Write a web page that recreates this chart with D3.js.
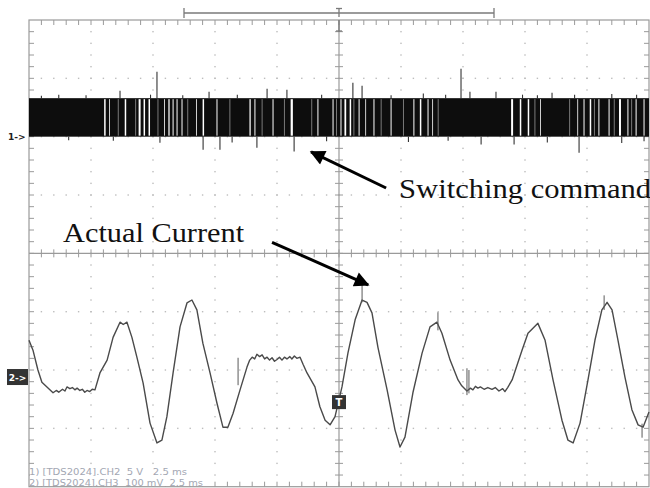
<!DOCTYPE html>
<html><head><meta charset="utf-8">
<script src="https://cdn.jsdelivr.net/npm/d3@7"></script>
<style>html,body{margin:0;padding:0;background:#fff;} svg{display:block;}</style>
</head><body>
<svg id="scope" width="650" height="488"></svg>
<script>
// ---- acquisition settings ----
const msPerDiv = 2.5;
const ch1VoltsPerDiv = 5;
const ch2MvPerDiv = 100;
const ch1OffsetDiv = 2.0;     // ground position of CH1 in divisions above centre
const ch2OffsetDiv = -2.12;   // ground position of CH2
const triggerLevelMv = -43;

// ---- channel 1: PWM switching command (V) ----
const ch1High = 3.3;
const ch1Gaps = [[3.03,3.09],[3.23,3.26],[3.86,3.92],[4.42,4.50],[4.62,4.68],[4.82,4.88],
  [5.45,5.48],[5.62,5.67],[5.79,5.83],[5.95,5.99],[6.15,6.19],[6.74,6.77],[7.00,7.06],
  [7.56,7.60],[8.89,8.94],[9.09,9.13],[9.82,9.86],[10.55,10.64],[11.63,11.67],[12.24,12.28],
  [12.56,12.60],[12.72,12.79],[12.93,12.99],[13.29,13.33],[13.56,13.59],[13.89,13.93],
  [14.58,14.62],[15.50,15.54],[15.76,15.82],[16.07,16.11],[16.26,16.29],[19.44,19.52],
  [19.79,19.85],[20.11,20.17],[20.61,20.64],[22.11,22.14],[22.36,22.40],[22.61,22.67],
  [22.96,23.00],[23.37,23.41],[23.79,23.87],[24.13,24.17],[24.46,24.50],[24.78,24.82]];
const ch1Gray = [3.6,4.3,5.2,6.4,8.1,9.4,10.3,11.4,12.4,13.1,14.2,15.1,16.5,20.4,21.8,22.8,
  23.6,24.3];
const ch1SpikesUp = [[5.16,5.56],[17.42,5.82],[13.06,4.62],[13.43,4.37],[9.60,4.11],[10.40,4.02],
  [3.67,3.94],[7.26,3.85],[17.78,3.85],[18.83,3.85],[21.09,3.77],[1.2,3.6],[2.3,3.55],
  [8.4,3.6],[11.8,3.6],[15.9,3.7],[19.9,3.6],[23.5,3.65],[0.5,3.5],[4.9,3.6],[6.2,3.55],
  [14.6,3.55],[16.8,3.6],[20.5,3.55],[22.0,3.6],[24.5,3.6]];
const ch1SpikesDown = [[7.02,-1.11],[7.70,-1.11],[9.19,-0.94],[10.69,-1.28],[18.23,-0.68],
  [19.56,-0.68],[22.18,-1.37],[5.28,-0.51],[8.19,-0.5],[15.3,-0.45],[20.9,-0.5],[23.9,-0.55],
  [1.6,-0.3],[3.4,-0.35],[12.0,-0.4],[16.9,-0.35],[24.8,-0.4]];

// ---- channel 2: measured current (mV) ----
const ch2Time = [0,0.16,0.36,0.52,0.97,1.1,1.2,1.35,1.45,1.53,1.65,1.75,1.85,1.94,2.05,2.15,
  2.25,2.34,2.45,2.55,2.66,2.86,3.15,3.39,3.67,3.8,3.95,4.15,4.35,4.6,4.88,5.16,5.36,5.56,
  5.81,6.09,6.37,6.57,6.77,7.01,7.3,7.58,7.82,8.02,8.23,8.51,8.79,8.9,9.0,9.1,9.19,9.3,9.4,
  9.5,9.6,9.7,9.8,9.9,10.0,10.1,10.2,10.3,10.4,10.52,10.6,10.7,10.8,10.93,11.05,11.21,11.53,
  11.73,11.94,12.14,12.34,12.62,12.86,13.15,13.43,13.63,13.83,14.07,14.44,14.76,14.96,15.16,
  15.48,15.85,16.17,16.45,16.65,16.98,17.3,17.45,17.66,17.8,17.9,18.0,18.1,18.2,18.35,18.5,
  18.67,18.8,18.95,19.1,19.19,19.3,19.48,19.88,20.12,20.52,20.81,21.13,21.49,21.73,21.94,
  22.22,22.54,22.82,23.1,23.31,23.51,23.75,24.03,24.31,24.56,24.76,25.0];
const ch2Value = [63,46,12,-9,-27,-23,-26,-21,-24,-17,-20,-18,-22,-19,-23,-21,
  -26,-23,-25,-21,-22,7,29,68,94,90,94,68,34,-10,-79,-113,-108,-68,
  7,86,127,132,115,58,7,-45,-86,-86,-62,-22,17,29,34,31,39,35,38,
  31,34,29,33,27,30,34,29,34,31,35,31,36,32,34,22,7,-17,
  -51,-74,-82,-68,-17,41,98,132,128,110,51,-22,-91,-120,-103,
  -27,41,86,94,75,29,-5,-15,-24,-19,-22,-16,-19,-17,-21,-18,
  -21,-18,-24,-20,-25,-18,-5,46,75,92,63,-5,-74,-108,-113,
  -79,-5,63,115,128,115,63,0,-56,-82,-86,-60];
const ch2Spikes = [[8.43,33,-14],[17.66,15,-31],[17.74,12,-28],[13.43,161,128],
  [16.49,111,80],[23.19,140,115],[24.72,-80,-104]];

// ---- text ----
const readout = ["1) [TDS2024].CH2  5 V   2.5 ms", "2) [TDS2024].CH3  100 mV  2.5 ms"];
const readoutWidth = [158, 174];
const notes = [
  {text: "Switching command", xDiv: 5.97, yDiv: 0.95, width: 252},
  {text: "Actual Current", xDiv: 0.55, yDiv: 0.19, width: 181}
];
const arrows = [
  {from: [5.76, 1.12], to: [4.55, 1.74]},
  {from: [3.92, 0.19], to: [5.47, -0.54]}
];

// ---- scales ----
const L = 29, R = 649, T = 20, B = 486.7;
const xDiv = d3.scaleLinear().domain([0, 10]).range([L, R]);
const yDiv = d3.scaleLinear().domain([-4, 4]).range([B, T]);
const x = d3.scaleLinear().domain([0, 10 * msPerDiv]).range([L, R]);
const y1 = d3.scaleLinear()
  .domain([(-4 - ch1OffsetDiv) * ch1VoltsPerDiv, (4 - ch1OffsetDiv) * ch1VoltsPerDiv]).range([B, T]);
const y2 = d3.scaleLinear()
  .domain([(-4 - ch2OffsetDiv) * ch2MvPerDiv, (4 - ch2OffsetDiv) * ch2MvPerDiv]).range([B, T]);

const svg = d3.select("#scope");
const gridColor = "#9a9a9a";

// ---- graticule ----
const grid = svg.append("g");
const minorX = d3.range(0, 10.001, 0.2);
const minorY = d3.range(-4, 4.001, 0.2);
// dotted division lines
[1,2,3,4,6,7,8,9].forEach(d => {
  minorY.slice(1, -1).forEach(v => grid.append("rect")
    .attr("x", xDiv(d) - 0.7).attr("y", yDiv(v) - 0.7).attr("width", 1.4).attr("height", 1.4)
    .attr("fill", "#bdbdbd"));
});
[-3,-2,-1,1,2,3].forEach(d => {
  minorX.slice(1, -1).forEach(v => grid.append("rect")
    .attr("x", xDiv(v) - 0.7).attr("y", yDiv(d) - 0.7).attr("width", 1.4).attr("height", 1.4)
    .attr("fill", "#bdbdbd"));
});
// frame
grid.append("rect").attr("x", L).attr("y", T).attr("width", R - L).attr("height", B - T)
  .attr("fill", "none").attr("stroke", gridColor).attr("stroke-width", 1.2);
// centre axes
grid.append("line").attr("x1", L).attr("x2", R).attr("y1", yDiv(0)).attr("y2", yDiv(0))
  .attr("stroke", gridColor).attr("stroke-width", 1.2);
grid.append("line").attr("x1", xDiv(5)).attr("x2", xDiv(5)).attr("y1", T).attr("y2", B)
  .attr("stroke", gridColor).attr("stroke-width", 1.2);
// ticks on frame and centre axes
minorX.slice(1, -1).forEach(v => {
  const px = xDiv(v);
  grid.append("line").attr("x1", px).attr("x2", px).attr("y1", T).attr("y2", T + 5)
    .attr("stroke", gridColor);
  grid.append("line").attr("x1", px).attr("x2", px).attr("y1", B - 5).attr("y2", B)
    .attr("stroke", gridColor);
  grid.append("line").attr("x1", px).attr("x2", px).attr("y1", yDiv(0) - 4).attr("y2", yDiv(0) + 4)
    .attr("stroke", gridColor);
});
minorY.slice(1, -1).forEach(v => {
  const py = yDiv(v);
  grid.append("line").attr("x1", L).attr("x2", L + 5).attr("y1", py).attr("y2", py)
    .attr("stroke", gridColor);
  grid.append("line").attr("x1", R - 5).attr("x2", R).attr("y1", py).attr("y2", py)
    .attr("stroke", gridColor);
  grid.append("line").attr("x1", xDiv(5) - 4).attr("x2", xDiv(5) + 4).attr("y1", py).attr("y2", py)
    .attr("stroke", gridColor);
});

// ---- horizontal position bracket and trigger position marker ----
const brk = svg.append("g").attr("stroke", "#7a7a7a").attr("stroke-width", 1.3);
brk.append("line").attr("x1", x(6.25)).attr("x2", x(18.75)).attr("y1", 13).attr("y2", 13);
[6.25, 18.75].forEach(t => brk.append("line").attr("x1", x(t)).attr("x2", x(t))
  .attr("y1", 8).attr("y2", 18));
brk.append("line").attr("x1", x(12.5)).attr("x2", x(12.5)).attr("y1", 8).attr("y2", 17);
brk.append("line").attr("x1", x(12.5) - 3).attr("x2", x(12.5) + 3).attr("y1", 8.5).attr("y2", 8.5);
brk.append("line").attr("x1", x(12.5)).attr("x2", x(12.5)).attr("y1", T).attr("y2", T + 12);
brk.append("line").attr("x1", x(12.5) - 3).attr("x2", x(12.5) + 3).attr("y1", T + 11).attr("y2", T + 11);

// ---- channel 1 trace ----
const c1 = svg.append("g");
c1.selectAll(".sup").data(ch1SpikesUp).join("line")
  .attr("x1", d => x(d[0])).attr("x2", d => x(d[0]))
  .attr("y1", y1(ch1High)).attr("y2", d => y1(d[1]))
  .attr("stroke", "#333").attr("stroke-width", 1.1);
c1.selectAll(".sdn").data(ch1SpikesDown).join("line")
  .attr("x1", d => x(d[0])).attr("x2", d => x(d[0]))
  .attr("y1", y1(0)).attr("y2", d => y1(d[1]))
  .attr("stroke", "#333").attr("stroke-width", 1.1);
c1.append("rect").attr("x", x(0)).attr("width", x(25) - x(0))
  .attr("y", y1(ch1High)).attr("height", y1(0) - y1(ch1High)).attr("fill", "#0d0d0d");
c1.selectAll(".gap").data(ch1Gaps).join("rect")
  .attr("x", d => x(d[0])).attr("width", d => Math.max(0.8, x(d[1]) - x(d[0])))
  .attr("y", y1(ch1High) + 1).attr("height", y1(0) - y1(ch1High) - 2).attr("fill", "#fff");
c1.selectAll(".gry").data(ch1Gray).join("line")
  .attr("x1", d => x(d)).attr("x2", d => x(d))
  .attr("y1", y1(ch1High) + 1).attr("y2", y1(0) - 1)
  .attr("stroke", "#7a7a7a").attr("stroke-width", 1);

// ---- channel 2 trace ----
const pts = ch2Time.map((t, i) => [t, ch2Value[i]]);
svg.append("path").datum(pts)
  .attr("d", d3.line().x(d => x(d[0])).y(d => y2(d[1])))
  .attr("fill", "none").attr("stroke", "#4a4a4a").attr("stroke-width", 1.4)
  .attr("stroke-linejoin", "round");
svg.selectAll(".c2s").data(ch2Spikes).join("line")
  .attr("x1", d => x(d[0])).attr("x2", d => x(d[0]))
  .attr("y1", d => y2(d[1])).attr("y2", d => y2(d[2]))
  .attr("stroke", "#5a5a5a").attr("stroke-width", 1);

// ---- channel markers ----
svg.append("text").attr("x", 8).attr("y", y1(0) + 3.5).text("1->")
  .attr("font-family", "DejaVu Sans, sans-serif").attr("font-size", 9).attr("font-weight", "bold")
  .attr("fill", "#222");
const m2 = svg.append("g");
m2.append("rect").attr("x", 7).attr("y", y2(0) - 8).attr("width", 21).attr("height", 16).attr("fill", "#333");
m2.append("text").attr("x", 17.5).attr("y", y2(0) + 3.5).attr("text-anchor", "middle").text("2->")
  .attr("font-family", "DejaVu Sans, sans-serif").attr("font-size", 9).attr("font-weight", "bold")
  .attr("fill", "#fff");
const tm = svg.append("g");
tm.append("rect").attr("x", x(12.5) - 7).attr("y", y2(triggerLevelMv) - 7).attr("width", 14).attr("height", 14)
  .attr("fill", "#333");
tm.append("text").attr("x", x(12.5)).attr("y", y2(triggerLevelMv) + 4).attr("text-anchor", "middle").text("T")
  .attr("font-family", "DejaVu Sans, sans-serif").attr("font-size", 10).attr("font-weight", "bold")
  .attr("fill", "#fff");

// ---- readout ----
svg.append("rect").attr("x", L + 1).attr("y", 465).attr("width", 178).attr("height", 21).attr("fill", "#fff");
readout.forEach((s, i) => svg.append("text").attr("x", L).attr("y", 475 + i * 11).text(s)
  .attr("font-family", "DejaVu Sans, sans-serif").attr("font-size", 9.5)
  .attr("textLength", readoutWidth[i]).attr("lengthAdjust", "spacingAndGlyphs")
  .attr("fill", "#a3a7b3").attr("xml:space", "preserve"));

// ---- annotations ----
const defs = svg.append("defs");
defs.append("marker").attr("id", "head").attr("viewBox", "0 0 10 10").attr("refX", 9).attr("refY", 5)
  .attr("markerWidth", 6).attr("markerHeight", 5).attr("orient", "auto")
  .attr("markerUnits", "strokeWidth")
  .append("path").attr("d", "M0,0 L10,5 L0,10 Z").attr("fill", "#000");
arrows.forEach(a => svg.append("line")
  .attr("x1", xDiv(a.from[0])).attr("y1", yDiv(a.from[1]))
  .attr("x2", xDiv(a.to[0])).attr("y2", yDiv(a.to[1]))
  .attr("stroke", "#000").attr("stroke-width", 3).attr("marker-end", "url(#head)"));
notes.forEach(n => svg.append("text").attr("x", xDiv(n.xDiv)).attr("y", yDiv(n.yDiv)).text(n.text)
  .attr("font-family", "Liberation Serif, Times New Roman, serif").attr("font-size", 27)
  .attr("textLength", n.width).attr("lengthAdjust", "spacingAndGlyphs").attr("fill", "#111"));
</script>
</body></html>
